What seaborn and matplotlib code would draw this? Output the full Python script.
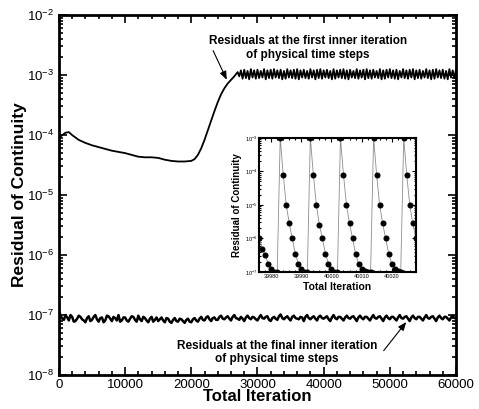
import numpy as np
import pandas as pd
import matplotlib
matplotlib.use("Agg")
import matplotlib.pyplot as plt
import seaborn as sns
from matplotlib.ticker import LogLocator, LogFormatterMathtext, MultipleLocator, NullFormatter

# ---------------- data ----------------
# upper curve: residual at first inner iteration (log10 values)
upper_iter_a = [0, 500, 1000, 1500, 2000, 3000, 4000, 5000, 6000, 7000, 8000, 9000,
                10000, 11000, 12000, 13000, 14000, 15000, 16000, 17000, 18000, 19000,
                20000, 20500, 21000, 21500, 22000, 22500, 23000, 23500, 24000, 24500,
                25000, 25500, 26000, 26500]
upper_log_a = [-4.05, -4.00, -3.96, -3.95, -4.00, -4.08, -4.13, -4.17, -4.20, -4.23, -4.26, -4.28,
               -4.30, -4.33, -4.36, -4.37, -4.37, -4.38, -4.41, -4.43, -4.44, -4.44,
               -4.43, -4.40, -4.33, -4.22, -4.08, -3.92, -3.76, -3.60, -3.45, -3.32,
               -3.22, -3.14, -3.08, -3.02]
# plateau oscillation: peaks at 27000, 27500, ... 60000 and troughs in between
upper_peak_iter = np.arange(27000, 60001, 500)
upper_peak_log = [-2.95, -2.92, -2.91, -2.93, -2.90, -2.92, -2.91, -2.93, -2.90, -2.92,
                  -2.91, -2.90, -2.92, -2.91, -2.93, -2.90, -2.92, -2.91, -2.90, -2.92,
                  -2.91, -2.93, -2.90, -2.92, -2.91, -2.90, -2.92, -2.91, -2.93, -2.90,
                  -2.92, -2.91, -2.90, -2.92, -2.91, -2.93, -2.90, -2.92, -2.91, -2.90,
                  -2.92, -2.91, -2.93, -2.90, -2.92, -2.91, -2.90, -2.92, -2.91, -2.93,
                  -2.90, -2.92, -2.91, -2.90, -2.92, -2.91, -2.93, -2.90, -2.92, -2.91,
                  -2.90, -2.92, -2.91, -2.93, -2.90, -2.92, -2.91]
upper_trough_iter = np.arange(27250, 60000, 500)
upper_trough_log = [-3.02, -3.06, -3.05, -3.07, -3.04, -3.06, -3.05, -3.04, -3.07, -3.05,
                    -3.06, -3.04, -3.05, -3.07, -3.06, -3.04, -3.05, -3.06, -3.07, -3.04,
                    -3.05, -3.06, -3.04, -3.07, -3.05, -3.06, -3.04, -3.05, -3.07, -3.06,
                    -3.04, -3.05, -3.06, -3.07, -3.04, -3.05, -3.06, -3.04, -3.07, -3.05,
                    -3.06, -3.04, -3.05, -3.07, -3.06, -3.04, -3.05, -3.06, -3.07, -3.04,
                    -3.05, -3.06, -3.04, -3.07, -3.05, -3.06, -3.04, -3.05, -3.07, -3.06,
                    -3.04, -3.05, -3.06, -3.07, -3.04, -3.05]

# lower curve: residual at final inner iteration (log10 values)
lower_iter_even = np.arange(0, 60001, 500)
lower_log_even = [-6.92, -7.06, -7.00, -7.09, -7.03, -7.10, -7.01, -7.07, -7.12, -7.02,
                  -7.08, -7.00, -7.11, -7.04, -7.09, -7.02, -7.10, -7.05, -7.00, -7.09,
                  -7.04, -7.11, -7.02, -7.08, -7.01, -7.10, -7.05, -7.12, -7.03, -7.08,
                  -7.10, -7.04, -7.12, -7.06, -7.13, -7.05, -7.11, -7.07, -7.13, -7.06,
                  -7.12, -7.05, -7.11, -7.03, -7.09, -7.02, -7.10, -7.04, -7.08, -7.01,
                  -7.07, -7.02, -7.09, -7.00, -7.06, -7.03, -7.10, -7.01, -7.07, -7.04,
                  -7.09, -7.00, -7.06, -7.02, -7.10, -7.03, -7.08, -6.99, -7.07, -7.02,
                  -7.09, -7.01, -7.06, -7.03, -7.10, -7.00, -7.07, -7.02, -7.09, -7.01,
                  -7.06, -7.02, -7.10, -7.00, -7.07, -7.03, -7.09, -7.01, -7.06, -7.02,
                  -7.10, -7.01, -7.07, -7.03, -7.09, -7.00, -7.06, -7.02, -7.10, -7.01,
                  -7.07, -7.03, -7.09, -7.00, -7.06, -7.02, -7.10, -7.01, -7.07, -7.03,
                  -7.09, -7.00, -7.06, -7.02, -7.10, -7.01, -7.07, -7.03, -7.09, -7.01,
                  -7.05]
lower_iter_odd = np.arange(250, 60000, 500)
lower_log_odd = [-7.01, -7.08, -7.04, -7.00, -7.11, -7.06, -7.03, -7.09, -7.05, -7.10,
                 -7.03, -7.07, -7.05, -7.12, -7.01, -7.06, -7.03, -7.09, -7.11, -7.04,
                 -7.09, -7.06, -7.03, -7.11, -7.07, -7.03, -7.09, -7.06, -7.11, -7.04,
                 -7.07, -7.09, -7.05, -7.11, -7.08, -7.10, -7.06, -7.10, -7.08, -7.11,
                 -7.07, -7.09, -7.06, -7.08, -7.04, -7.07, -7.05, -7.08, -7.03, -7.06,
                 -7.04, -7.06, -7.03, -7.05, -7.08, -7.06, -7.04, -7.05, -7.03, -7.07,
                 -7.04, -7.05, -7.03, -7.08, -7.05, -7.06, -7.02, -7.05, -7.04, -7.06,
                 -7.03, -7.05, -7.07, -7.04, -7.03, -7.05, -7.04, -7.06, -7.03, -7.05,
                 -7.04, -7.07, -7.04, -7.05, -7.03, -7.06, -7.04, -7.05, -7.03, -7.06,
                 -7.04, -7.05, -7.03, -7.06, -7.04, -7.05, -7.03, -7.06, -7.04, -7.05,
                 -7.03, -7.06, -7.04, -7.05, -7.03, -7.06, -7.04, -7.05, -7.03, -7.06,
                 -7.04, -7.05, -7.03, -7.06, -7.04, -7.05, -7.03, -7.06, -7.04, -7.05]

# inset: every inner iteration between 39976 and 40028 (log10 values)
inset_iter = np.arange(39976, 40029)
inset_log = [-6.00, -6.30, -6.50, -6.75, -6.90, -7.00, -7.00,
             -3.00, -4.10, -5.00, -5.55, -6.00, -6.45, -6.75, -6.90, -7.00, -7.00,
             -3.00, -4.10, -5.00, -5.60, -6.00, -6.45, -6.75, -6.92, -7.00, -7.00,
             -3.00, -4.10, -5.00, -5.55, -6.00, -6.45, -6.75, -6.90, -6.97, -7.00, -7.00,
             -3.00, -4.10, -5.00, -5.55, -6.00, -6.45, -6.75, -6.90, -6.97, -7.00,
             -3.00, -4.10, -5.00, -5.55, -6.00]

x_ticks = [0, 10000, 20000, 30000, 40000, 50000, 60000]
inset_x_ticks = [39980, 39990, 40000, 40010, 40020]

# ---------------- style ----------------
sns.set_style("ticks")
plt.rcParams['font.family'] = ['Liberation Sans', 'DejaVu Sans']
plt.rcParams['mathtext.fontset'] = 'custom'
plt.rcParams['mathtext.rm'] = 'Liberation Sans'
plt.rcParams['mathtext.it'] = 'Liberation Sans'
plt.rcParams['mathtext.bf'] = 'Liberation Sans:bold'
for k in ['text.color', 'axes.labelcolor', 'xtick.color', 'ytick.color', 'axes.edgecolor']:
    plt.rcParams[k] = 'black'

upper = pd.DataFrame({
    "iter": list(upper_iter_a) + list(upper_peak_iter) + list(upper_trough_iter),
    "res": 10.0 ** np.array(upper_log_a + upper_peak_log + upper_trough_log),
}).sort_values("iter")
lower = pd.DataFrame({
    "iter": list(lower_iter_even) + list(lower_iter_odd),
    "res": 10.0 ** np.array(lower_log_even + lower_log_odd),
}).sort_values("iter")
inset = pd.DataFrame({"iter": inset_iter, "res": 10.0 ** np.array(inset_log)})

fig = plt.figure(figsize=(4.79, 4.09), dpi=100)
ax = fig.add_axes([0.123, 0.083, 0.829, 0.880])

sns.lineplot(data=upper, x="iter", y="res", ax=ax, color="black", lw=1.3,
             estimator=None, sort=False)
sns.lineplot(data=lower, x="iter", y="res", ax=ax, color="black", lw=1.8,
             estimator=None, sort=False)

ax.set_yscale("log")
ax.set_ylim(1e-8, 1e-2)
ax.set_xlim(0, 60000)
ax.set_xticks(x_ticks)
ax.set_xticklabels([str(v) for v in x_ticks])
ax.xaxis.set_minor_locator(MultipleLocator(2000))
ax.yaxis.set_major_locator(LogLocator(base=10, numticks=10))
ax.yaxis.set_major_formatter(LogFormatterMathtext())
ax.yaxis.set_minor_locator(LogLocator(base=10, subs=np.arange(2, 10), numticks=20))
ax.yaxis.set_minor_formatter(NullFormatter())
ax.tick_params(which="both", direction="in", top=True, right=True, width=1.2,
               labelsize=9.5)
ax.tick_params(axis="x", pad=2.5)
ax.tick_params(which="major", length=6)
ax.tick_params(which="minor", length=3)
for s in ax.spines.values():
    s.set_linewidth(2)
ax.set_xlabel("Total Iteration", fontsize=12, fontweight="bold", labelpad=-1)
ax.set_ylabel("Residual of Continuity", fontsize=12.5, fontweight="bold", labelpad=0)

ax.text(37600, 10 ** -2.55, "Residuals at the first inner iteration\nof physical time steps",
        ha="center", va="center", fontsize=8.5, fontweight="bold", linespacing=1.15)
ax.annotate("", xy=(25540, 10 ** -3.12), xytext=(23120, 10 ** -2.55),
            arrowprops=dict(arrowstyle="-|>,head_length=0.5,head_width=0.2", lw=0.8, color="black"))
ax.text(32950, 10 ** -7.62, "Residuals at the final inner iteration\nof physical time steps",
        ha="center", va="center", fontsize=8.5, fontweight="bold", linespacing=1.15)
ax.annotate("", xy=(52740, 10 ** -7.08), xytext=(48810, 10 ** -7.63),
            arrowprops=dict(arrowstyle="-|>,head_length=0.5,head_width=0.2", lw=0.8, color="black"))

# ---------------- inset ----------------
axi = fig.add_axes([0.541, 0.335, 0.327, 0.328])
sns.lineplot(data=inset, x="iter", y="res", ax=axi, color="0.55", lw=0.6,
             marker="o", markersize=3.6, markerfacecolor="black", markeredgecolor="black",
             estimator=None, sort=False)
axi.set_yscale("log")
axi.set_ylim(1e-7, 1e-3)
axi.set_xlim(39976, 40028)
axi.set_xticks(inset_x_ticks)
axi.set_xticklabels([str(v) for v in inset_x_ticks])
axi.xaxis.set_minor_locator(MultipleLocator(2))
axi.yaxis.set_major_locator(LogLocator(base=10, numticks=10))
axi.yaxis.set_major_formatter(LogFormatterMathtext())
axi.yaxis.set_minor_locator(LogLocator(base=10, subs=np.arange(2, 10), numticks=20))
axi.yaxis.set_minor_formatter(NullFormatter())
axi.tick_params(which="both", direction="in", top=True, right=True, width=0.8,
                labelsize=4, pad=1.5)
axi.tick_params(which="major", length=3)
axi.tick_params(which="minor", length=1.5)
for s in axi.spines.values():
    s.set_linewidth(1.5)
axi.set_xlabel("Total Iteration", fontsize=7.5, fontweight="bold", labelpad=2)
axi.set_ylabel("Residual of Continuity", fontsize=7, fontweight="bold", labelpad=2)

fig.savefig("out.png", dpi=100)
